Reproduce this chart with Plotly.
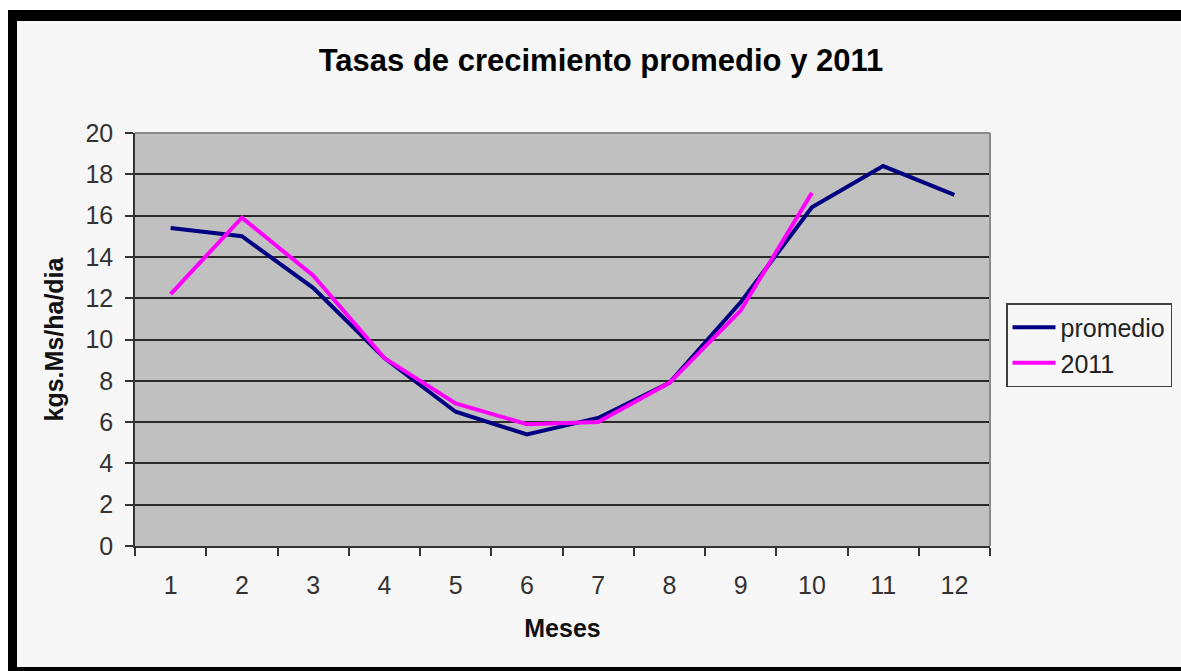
import plotly.graph_objects as go

meses = ["1", "2", "3", "4", "5", "6", "7", "8", "9", "10", "11", "12"]
promedio = [15.4, 15.0, 12.5, 9.1, 6.5, 5.4, 6.2, 7.9, 11.8, 16.4, 18.4, 17.0]
meses_2011 = ["1", "2", "3", "4", "5", "6", "7", "8", "9", "10"]
valores_2011 = [12.2, 15.9, 13.1, 9.1, 6.9, 5.9, 6.0, 7.9, 11.4, 17.1]
y_ticks = [0, 2, 4, 6, 8, 10, 12, 14, 16, 18, 20]

W, H = 1181, 671
L, R, T, B = 135, 990, 133, 546
PW, PH = R - L, B - T


def xp(px):
    return (px - L) / PW


def yp(py):
    return (B - py) / PH


FONT = "Liberation Sans, Arial, sans-serif"

fig = go.Figure()
fig.add_trace(go.Scatter(x=meses, y=promedio, mode="lines", name="promedio",
                         line=dict(color="#000080", width=4)))
fig.add_trace(go.Scatter(x=meses_2011, y=valores_2011, mode="lines", name="2011",
                         line=dict(color="#FF00FF", width=4)))

shapes = [
    # white outside strips
    dict(type="rect", xref="paper", yref="paper", x0=xp(0), x1=xp(W), y0=yp(10), y1=yp(0),
         fillcolor="white", line=dict(width=0), layer="below"),
    dict(type="rect", xref="paper", yref="paper", x0=xp(0), x1=xp(8), y0=yp(H), y1=yp(0),
         fillcolor="white", line=dict(width=0), layer="below"),
    # black frame
    dict(type="rect", xref="paper", yref="paper", x0=xp(8), x1=xp(W), y0=yp(21), y1=yp(10),
         fillcolor="black", line=dict(width=0), layer="below"),
    dict(type="rect", xref="paper", yref="paper", x0=xp(8), x1=xp(17), y0=yp(H), y1=yp(10),
         fillcolor="black", line=dict(width=0), layer="below"),
    dict(type="rect", xref="paper", yref="paper", x0=xp(8), x1=xp(W), y0=yp(H), y1=yp(667),
         fillcolor="black", line=dict(width=0), layer="below"),
    # gray plot border top/right
    dict(type="line", xref="paper", yref="paper", x0=0, x1=1, y0=1, y1=1,
         line=dict(color="#8a8a8a", width=2), layer="above"),
    dict(type="line", xref="paper", yref="paper", x0=1, x1=1, y0=0, y1=1,
         line=dict(color="#8a8a8a", width=2), layer="above"),
]

fig.update_layout(
    width=W, height=H,
    margin=dict(l=L, r=W - R, t=T, b=H - B, autoexpand=False),
    paper_bgcolor="#F7F7F7",
    plot_bgcolor="#C0C0C0",
    font=dict(family=FONT, size=25, color="#333333"),
    title=dict(text="<b>Tasas de crecimiento promedio y 2011</b>",
               font=dict(family=FONT, size=31, color="black"),
               xref="container", yref="container",
               x=601 / W, y=1 - 60 / H, xanchor="center", yanchor="middle"),
    xaxis=dict(type="category", tickson="boundaries", ticks="outside", ticklen=8,
               tickcolor="#333333", tickwidth=1.5,
               showgrid=False, showline=True, linecolor="#333333", linewidth=1.5,
               range=[-0.5, 11.5], ticklabelstandoff=16,
               tickfont=dict(size=25, color="#333333"),
               title=dict(text="<b>Meses</b>", standoff=22,
                          font=dict(size=25, color="#111111"))),
    yaxis=dict(range=[0, 20], tickvals=y_ticks, ticks="outside", ticklen=8,
               tickcolor="#333333", tickwidth=1.5,
               showgrid=True, gridcolor="#2a2a2a", gridwidth=1.5,
               showline=True, linecolor="#333333", linewidth=1.5,
               zeroline=False, ticklabelstandoff=7,
               tickfont=dict(size=25, color="#333333"),
               title=dict(text="<b>kgs.Ms/ha/dia</b>", standoff=15,
                          font=dict(size=25, color="#111111"))),
    legend=dict(x=xp(1006), y=yp(303), xanchor="left", yanchor="top",
                bgcolor="#F7F7F7", bordercolor="#404040", borderwidth=1.5,
                font=dict(size=25, color="#222222"), itemwidth=43,
                tracegroupgap=0),
    showlegend=True,
    shapes=shapes,
)

fig.write_html(
    "out.html",
    config={"displayModeBar": False},
    post_script="document.body.style.margin='0';document.body.style.overflow='hidden';",
)
